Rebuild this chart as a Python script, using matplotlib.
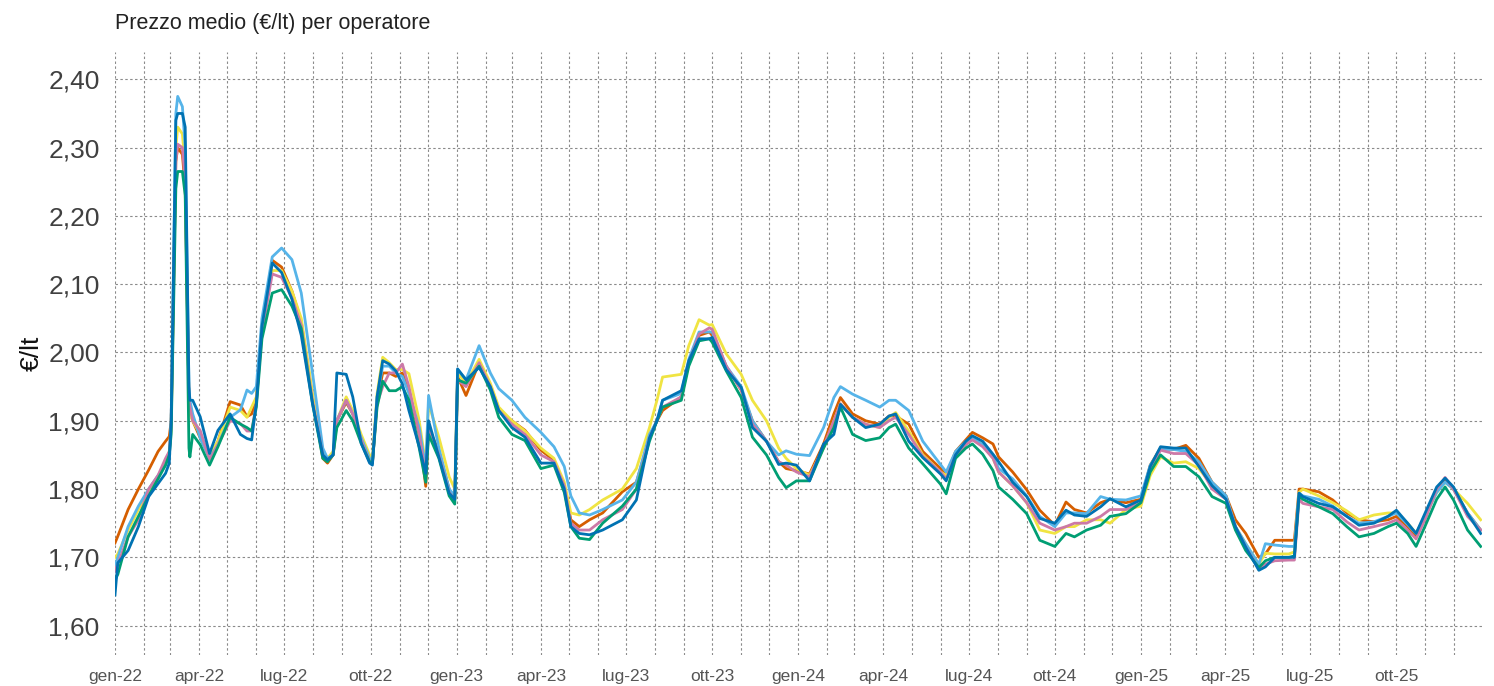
import numpy as np
import pandas as pd
import matplotlib
matplotlib.use('Agg')
import matplotlib.pyplot as plt
import matplotlib.dates as mdates
from matplotlib.ticker import FuncFormatter, FixedLocator

# date dei punti
date = (
    ['2022-01-01', '2022-01-04', '2022-01-15', '2022-01-26', '2022-02-06', '2022-02-16', '2022-02-24',
     '2022-02-28', '2022-03-02', '2022-03-07', '2022-03-09', '2022-03-14', '2022-03-17', '2022-03-21',
     '2022-03-22', '2022-03-25', '2022-04-02', '2022-04-12', '2022-04-21', '2022-05-04', '2022-05-15',
     '2022-05-22', '2022-05-27', '2022-06-01', '2022-06-07', '2022-06-18', '2022-06-28', '2022-07-09',
     '2022-07-19', '2022-07-31', '2022-08-11', '2022-08-16', '2022-08-22', '2022-08-26', '2022-09-05',
     '2022-09-12', '2022-09-21', '2022-09-30', '2022-10-03', '2022-10-08', '2022-10-14', '2022-10-21',
     '2022-10-28', '2022-11-04', '2022-11-11', '2022-11-22', '2022-11-29', '2022-12-02', '2022-12-13',
     '2022-12-24', '2022-12-30'] +
    ['2023-01-02', '2023-01-11', '2023-01-25', '2023-02-06', '2023-02-15', '2023-03-01', '2023-03-15',
     '2023-04-01', '2023-04-15', '2023-04-26', '2023-05-03', '2023-05-12', '2023-05-23', '2023-06-06',
     '2023-06-27', '2023-07-12', '2023-07-26', '2023-08-03', '2023-08-09', '2023-08-29', '2023-09-06',
     '2023-09-17', '2023-09-28', '2023-10-01', '2023-10-16', '2023-11-01', '2023-11-13', '2023-11-28',
     '2023-12-11', '2023-12-19', '2023-12-30'] +
    ['2024-01-13', '2024-01-28', '2024-02-08', '2024-02-15', '2024-02-28', '2024-03-13', '2024-03-28',
     '2024-04-07', '2024-04-14', '2024-04-28', '2024-05-13', '2024-06-01', '2024-06-07', '2024-06-17',
     '2024-06-28', '2024-07-05', '2024-07-16', '2024-07-27', '2024-08-02', '2024-08-17', '2024-09-01',
     '2024-09-15', '2024-10-01', '2024-10-13', '2024-10-22', '2024-11-04', '2024-11-19', '2024-11-29',
     '2024-12-16'] +
    ['2025-01-01', '2025-01-11', '2025-01-22', '2025-02-05', '2025-02-18', '2025-03-04', '2025-03-18',
     '2025-04-02', '2025-04-12', '2025-04-23', '2025-05-07', '2025-05-14', '2025-05-24', '2025-06-08',
     '2025-06-14', '2025-06-19', '2025-06-23', '2025-07-10', '2025-07-25', '2025-08-09', '2025-08-22',
     '2025-09-07', '2025-09-22', '2025-10-01', '2025-10-13', '2025-10-22', '2025-11-02', '2025-11-13',
     '2025-11-22', '2025-12-01', '2025-12-16', '2025-12-30']
)

# prezzi per operatore (€/lt)
arancio = (
    [1.721, 1.731, 1.770, 1.800, 1.828, 1.855, 1.870, 1.877, 1.900, 2.280, 2.300, 2.290, 2.240, 1.930,
     1.915, 1.900, 1.875, 1.847, 1.870, 1.928, 1.923, 1.906, 1.910, 1.930, 2.040, 2.135, 2.125, 2.090,
     2.045, 1.935, 1.845, 1.838, 1.850, 1.900, 1.927, 1.910, 1.875, 1.845, 1.838, 1.930, 1.970, 1.970,
     1.965, 1.970, 1.945, 1.880, 1.804, 1.890, 1.855, 1.800, 1.785] +
    [1.965, 1.937, 1.985, 1.950, 1.915, 1.900, 1.886, 1.857, 1.842, 1.805, 1.755, 1.745, 1.755, 1.765,
     1.796, 1.810, 1.875, 1.900, 1.915, 1.935, 1.985, 2.025, 2.030, 2.025, 1.980, 1.945, 1.900, 1.870,
     1.840, 1.830, 1.827] +
    [1.822, 1.866, 1.910, 1.934, 1.910, 1.900, 1.895, 1.907, 1.907, 1.895, 1.855, 1.830, 1.820, 1.855,
     1.872, 1.883, 1.875, 1.866, 1.847, 1.825, 1.799, 1.769, 1.747, 1.781, 1.770, 1.765, 1.780, 1.785,
     1.780] +
    [1.785, 1.835, 1.860, 1.858, 1.864, 1.845, 1.810, 1.790, 1.755, 1.735, 1.700, 1.705, 1.725, 1.725,
     1.725, 1.800, 1.800, 1.796, 1.784, 1.765, 1.755, 1.752, 1.755, 1.760, 1.745, 1.730, 1.765, 1.800,
     1.812, 1.800, 1.765, 1.740]
)

giallo = (
    [1.700, 1.705, 1.740, 1.770, 1.795, 1.815, 1.840, 1.855, 1.890, 2.300, 2.330, 2.320, 2.270, 1.930,
     1.910, 1.900, 1.880, 1.850, 1.870, 1.920, 1.915, 1.905, 1.920, 1.935, 2.040, 2.120, 2.120, 2.090,
     2.050, 1.940, 1.855, 1.845, 1.855, 1.900, 1.935, 1.915, 1.880, 1.850, 1.845, 1.940, 1.993, 1.985,
     1.975, 1.975, 1.969, 1.900, 1.835, 1.925, 1.876, 1.818, 1.800] +
    [1.970, 1.955, 1.990, 1.955, 1.920, 1.900, 1.885, 1.860, 1.845, 1.810, 1.765, 1.762, 1.770, 1.784,
     1.800, 1.830, 1.890, 1.930, 1.964, 1.968, 2.010, 2.048, 2.040, 2.041, 1.998, 1.968, 1.930, 1.900,
     1.860, 1.845, 1.830] +
    [1.820, 1.860, 1.900, 1.925, 1.905, 1.895, 1.890, 1.905, 1.912, 1.885, 1.850, 1.825, 1.820, 1.850,
     1.865, 1.875, 1.865, 1.845, 1.825, 1.805, 1.780, 1.740, 1.735, 1.745, 1.745, 1.755, 1.755, 1.750,
     1.770] +
    [1.775, 1.820, 1.847, 1.838, 1.840, 1.830, 1.805, 1.787, 1.745, 1.720, 1.690, 1.706, 1.705, 1.705,
     1.708, 1.795, 1.800, 1.790, 1.780, 1.768, 1.755, 1.762, 1.765, 1.765, 1.750, 1.735, 1.765, 1.795,
     1.810, 1.800, 1.779, 1.755]
)

azzurro = (
    [1.687, 1.700, 1.745, 1.775, 1.800, 1.820, 1.835, 1.850, 1.900, 2.350, 2.375, 2.360, 2.300, 1.950,
     1.930, 1.910, 1.875, 1.845, 1.865, 1.905, 1.916, 1.945, 1.940, 1.950, 2.050, 2.140, 2.153, 2.136,
     2.087, 1.970, 1.860, 1.845, 1.850, 1.900, 1.930, 1.910, 1.875, 1.845, 1.840, 1.935, 1.980, 1.980,
     1.970, 1.965, 1.940, 1.890, 1.830, 1.937, 1.860, 1.800, 1.790] +
    [1.975, 1.960, 2.010, 1.970, 1.947, 1.930, 1.905, 1.883, 1.862, 1.833, 1.790, 1.765, 1.762, 1.770,
     1.784, 1.810, 1.880, 1.900, 1.930, 1.940, 1.990, 2.030, 2.030, 2.030, 1.980, 1.950, 1.900, 1.870,
     1.850, 1.856, 1.851] +
    [1.849, 1.890, 1.934, 1.950, 1.939, 1.930, 1.920, 1.930, 1.930, 1.915, 1.870, 1.836, 1.825, 1.855,
     1.870, 1.875, 1.865, 1.850, 1.830, 1.815, 1.790, 1.760, 1.745, 1.765, 1.765, 1.764, 1.789, 1.785,
     1.784] +
    [1.790, 1.835, 1.858, 1.858, 1.855, 1.840, 1.810, 1.790, 1.745, 1.720, 1.690, 1.720, 1.718, 1.716,
     1.716, 1.794, 1.790, 1.785, 1.775, 1.760, 1.750, 1.752, 1.760, 1.765, 1.748, 1.735, 1.765, 1.795,
     1.810, 1.800, 1.765, 1.740]
)

verde = (
    [1.667, 1.675, 1.730, 1.760, 1.790, 1.815, 1.835, 1.850, 1.880, 2.240, 2.265, 2.265, 2.230, 1.860,
     1.847, 1.880, 1.865, 1.835, 1.862, 1.905, 1.895, 1.890, 1.885, 1.920, 2.020, 2.087, 2.092, 2.068,
     2.035, 1.925, 1.845, 1.840, 1.850, 1.890, 1.915, 1.900, 1.867, 1.840, 1.838, 1.920, 1.958, 1.944,
     1.944, 1.950, 1.930, 1.860, 1.810, 1.880, 1.845, 1.790, 1.778] +
    [1.960, 1.955, 1.980, 1.945, 1.905, 1.880, 1.871, 1.830, 1.835, 1.795, 1.745, 1.728, 1.726, 1.750,
     1.775, 1.800, 1.870, 1.900, 1.920, 1.930, 1.980, 2.017, 2.020, 2.015, 1.973, 1.934, 1.876, 1.850,
     1.817, 1.802, 1.812] +
    [1.812, 1.860, 1.890, 1.920, 1.880, 1.871, 1.875, 1.890, 1.895, 1.860, 1.837, 1.807, 1.793, 1.845,
     1.860, 1.866, 1.851, 1.827, 1.803, 1.785, 1.764, 1.725, 1.716, 1.735, 1.730, 1.740, 1.747, 1.760,
     1.764] +
    [1.780, 1.825, 1.850, 1.833, 1.833, 1.818, 1.789, 1.779, 1.740, 1.710, 1.685, 1.695, 1.700, 1.700,
     1.702, 1.790, 1.785, 1.774, 1.764, 1.745, 1.730, 1.735, 1.745, 1.750, 1.735, 1.716, 1.750, 1.785,
     1.803, 1.784, 1.740, 1.716]
)

blu = (
    [1.645, 1.692, 1.710, 1.745, 1.789, 1.808, 1.823, 1.838, 1.900, 2.340, 2.350, 2.350, 2.330, 1.950,
     1.930, 1.930, 1.906, 1.852, 1.886, 1.910, 1.880, 1.874, 1.872, 1.926, 2.038, 2.131, 2.117, 2.078,
     2.025, 1.925, 1.850, 1.843, 1.850, 1.970, 1.968, 1.935, 1.867, 1.838, 1.835, 1.935, 1.988, 1.983,
     1.973, 1.954, 1.915, 1.862, 1.823, 1.900, 1.847, 1.794, 1.785] +
    [1.976, 1.960, 1.978, 1.950, 1.915, 1.890, 1.876, 1.838, 1.838, 1.800, 1.745, 1.735, 1.733, 1.740,
     1.755, 1.784, 1.875, 1.900, 1.930, 1.944, 1.988, 2.020, 2.020, 2.022, 1.975, 1.949, 1.890, 1.870,
     1.836, 1.838, 1.835] +
    [1.812, 1.866, 1.880, 1.924, 1.905, 1.890, 1.895, 1.907, 1.910, 1.870, 1.846, 1.822, 1.812, 1.850,
     1.870, 1.878, 1.870, 1.851, 1.840, 1.810, 1.789, 1.757, 1.750, 1.769, 1.762, 1.760, 1.774, 1.786,
     1.774] +
    [1.784, 1.833, 1.862, 1.860, 1.860, 1.833, 1.805, 1.785, 1.745, 1.715, 1.681, 1.686, 1.700, 1.700,
     1.700, 1.794, 1.789, 1.779, 1.774, 1.760, 1.747, 1.750, 1.760, 1.769, 1.750, 1.735, 1.769, 1.803,
     1.816, 1.803, 1.764, 1.735]
)

rosa = (
    [1.680, 1.690, 1.730, 1.755, 1.800, 1.820, 1.845, 1.855, 1.890, 2.280, 2.305, 2.300, 2.250, 1.930,
     1.920, 1.900, 1.886, 1.843, 1.865, 1.900, 1.896, 1.885, 1.885, 1.925, 2.030, 2.115, 2.110, 2.080,
     2.040, 1.930, 1.850, 1.842, 1.850, 1.900, 1.930, 1.910, 1.872, 1.840, 1.838, 1.925, 1.950, 1.970,
     1.970, 1.983, 1.950, 1.880, 1.820, 1.890, 1.850, 1.795, 1.785] +
    [1.960, 1.950, 1.985, 1.950, 1.915, 1.895, 1.880, 1.850, 1.840, 1.805, 1.750, 1.740, 1.740, 1.755,
     1.770, 1.800, 1.875, 1.900, 1.920, 1.935, 1.985, 2.027, 2.036, 2.034, 1.980, 1.945, 1.895, 1.870,
     1.840, 1.835, 1.825] +
    [1.818, 1.862, 1.900, 1.925, 1.905, 1.895, 1.890, 1.900, 1.905, 1.880, 1.848, 1.825, 1.815, 1.850,
     1.865, 1.872, 1.862, 1.845, 1.825, 1.805, 1.780, 1.750, 1.740, 1.745, 1.750, 1.750, 1.760, 1.770,
     1.770] +
    [1.780, 1.830, 1.857, 1.852, 1.852, 1.835, 1.800, 1.785, 1.745, 1.715, 1.683, 1.690, 1.695, 1.696,
     1.696, 1.785, 1.779, 1.774, 1.770, 1.752, 1.740, 1.745, 1.750, 1.755, 1.740, 1.727, 1.760, 1.800,
     1.817, 1.800, 1.760, 1.740]
)

mesi = ['gen', 'feb', 'mar', 'apr', 'mag', 'giu', 'lug', 'ago', 'set', 'ott', 'nov', 'dic']
y_ticks = [1.60, 1.70, 1.80, 1.90, 2.00, 2.10, 2.20, 2.30, 2.40]

plt.rcParams['font.family'] = ['Liberation Sans', 'DejaVu Sans']

x = pd.to_datetime(date)

fig = plt.figure(figsize=(14.94, 6.86), dpi=100)
ax = fig.add_axes([115 / 1494, 31 / 686, 1366.6 / 1494, 603 / 686])

serie = [
    (arancio, '#D55E00'),
    (giallo, '#F0E442'),
    (azzurro, '#56B4E9'),
    (rosa, '#CC79A7'),
    (verde, '#009E73'),
    (blu, '#0072B2'),
]
for valori, colore in serie:
    ax.plot(x, valori, color=colore, linewidth=2.0, solid_joinstyle='round')

ax.set_xlim(pd.Timestamp('2022-01-01'), pd.Timestamp('2025-12-31'))
ax.set_ylim(1.557, 2.44)

ax.xaxis.set_major_locator(mdates.MonthLocator(bymonth=[1, 4, 7, 10]))
ax.xaxis.set_minor_locator(mdates.MonthLocator())


def etichetta_mese(v, pos):
    d = mdates.num2date(v)
    return f"{mesi[d.month - 1]}-{d.year % 100:02d}"


ax.xaxis.set_major_formatter(FuncFormatter(etichetta_mese))
ax.yaxis.set_major_locator(FixedLocator(y_ticks))
ax.yaxis.set_major_formatter(FuncFormatter(lambda v, pos: f"{v:.2f}".replace('.', ',')))

stile_griglia = dict(color='#8a8a8a', linestyle=(0, (2.2, 2.2)), linewidth=0.8)
ax.grid(True, which='both', axis='x', **stile_griglia)
ax.grid(True, which='major', axis='y', **stile_griglia)
ax.set_axisbelow(True)

for s in ax.spines.values():
    s.set_visible(False)

ax.tick_params(axis='both', which='both', length=0)
ax.tick_params(axis='y', labelsize=19, labelcolor='#404040', pad=11)
ax.tick_params(axis='x', labelsize=12.5, labelcolor='#555555', pad=10)

ax.set_ylabel('€/lt', fontsize=19, color='#111111', va='center')
ax.yaxis.set_label_coords(-0.061, 0.5)

fig.text(115 / 1494, 1 - 23 / 686, 'Prezzo medio (€/lt) per operatore',
         ha='left', va='center', fontsize=15.5, color='#222222')

fig.savefig('out.png', dpi=100)
